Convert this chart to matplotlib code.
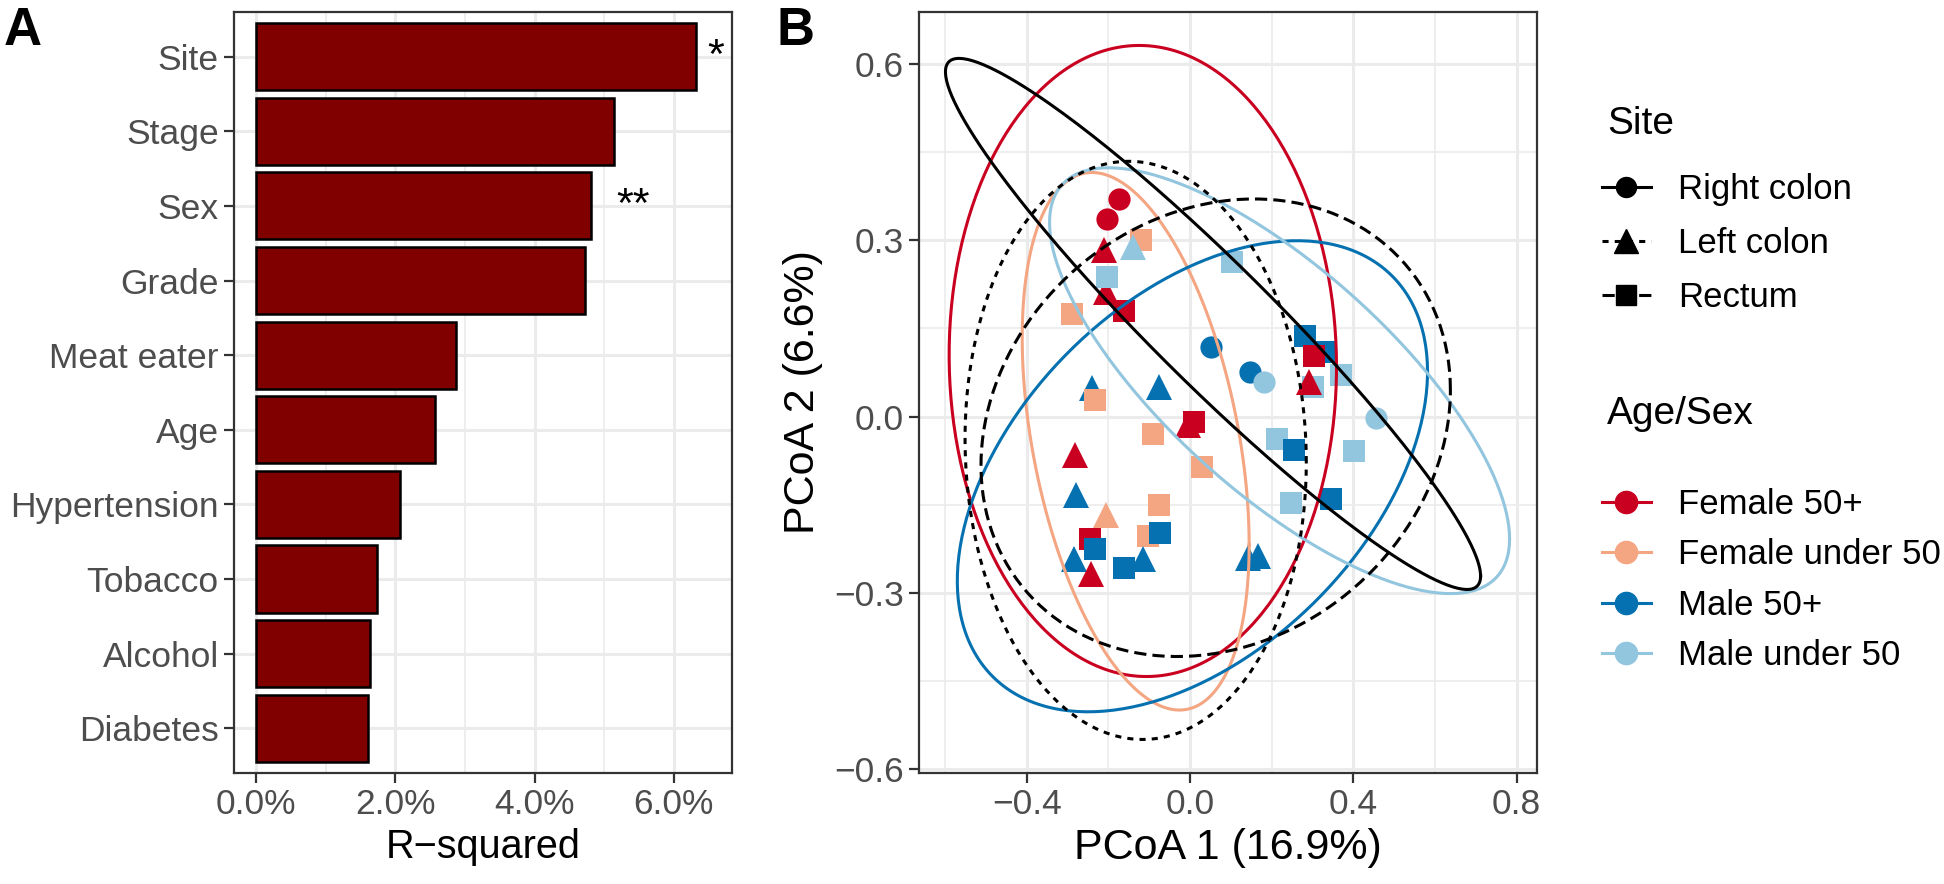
import numpy as np
import matplotlib.pyplot as plt
from matplotlib.lines import Line2D

plt.rcParams['font.family'] = ['Liberation Sans', 'DejaVu Sans']

# ---- panel A: PERMANOVA R-squared per variable
variables = ['Site', 'Stage', 'Sex', 'Grade', 'Meat eater', 'Age',
             'Hypertension', 'Tobacco', 'Alcohol', 'Diabetes']
r_squared = [6.32, 5.14, 4.81, 4.72, 2.87, 2.57, 2.06, 1.74, 1.64, 1.61]
star_vars = ['Site', 'Sex']
star_text = ['*', '**']
star_x = [6.61, 5.42]

# ---- panel B: PCoA scores (drawing order kept as listed)
pc1 = [-0.240, -0.206, -0.246, 0.052, 0.147,
       -0.121, -0.288, -0.232, -0.090, 0.029, -0.077, -0.104, -0.206,
       0.181, 0.456, -0.140, -0.203, 0.103, 0.214, 0.248, 0.401, 0.369, 0.301,
       -0.075, -0.278, -0.285, -0.114, 0.142, 0.166,
       -0.232, -0.073, -0.162, 0.255, 0.345, 0.282, 0.330,
       -0.175, -0.204, -0.211, -0.005, -0.281, -0.242, 0.292,
       -0.162, 0.010, 0.303]
pc2 = [0.048, 0.212, -0.209, 0.118, 0.075,
       0.300, 0.174, 0.028, -0.029, -0.085, -0.151, -0.203, -0.168,
       0.058, -0.003, 0.289, 0.238, 0.263, -0.038, -0.147, -0.059, 0.071, 0.051,
       0.051, -0.134, -0.243, -0.243, -0.241, -0.237,
       -0.226, -0.198, -0.258, -0.057, -0.140, 0.137, 0.109,
       0.370, 0.336, 0.283, -0.015, -0.066, -0.267, 0.058,
       0.180, -0.009, 0.103]
site = ['Left colon', 'Left colon', 'Rectum', 'Right colon', 'Right colon',
        'Rectum', 'Rectum', 'Rectum', 'Rectum', 'Rectum', 'Rectum', 'Rectum', 'Left colon',
        'Right colon', 'Right colon', 'Left colon', 'Rectum', 'Rectum', 'Rectum', 'Rectum', 'Rectum', 'Rectum', 'Rectum',
        'Left colon', 'Left colon', 'Left colon', 'Left colon', 'Left colon', 'Left colon',
        'Rectum', 'Rectum', 'Rectum', 'Rectum', 'Rectum', 'Rectum', 'Rectum',
        'Right colon', 'Right colon', 'Left colon', 'Left colon', 'Left colon', 'Left colon', 'Left colon',
        'Rectum', 'Rectum', 'Rectum']
group = ['Male 50+', 'Female 50+', 'Female 50+', 'Male 50+', 'Male 50+',
         'Female under 50', 'Female under 50', 'Female under 50', 'Female under 50',
         'Female under 50', 'Female under 50', 'Female under 50', 'Female under 50',
         'Male under 50', 'Male under 50', 'Male under 50', 'Male under 50', 'Male under 50',
         'Male under 50', 'Male under 50', 'Male under 50', 'Male under 50', 'Male under 50',
         'Male 50+', 'Male 50+', 'Male 50+', 'Male 50+', 'Male 50+', 'Male 50+',
         'Male 50+', 'Male 50+', 'Male 50+', 'Male 50+', 'Male 50+', 'Male 50+', 'Male 50+',
         'Female 50+', 'Female 50+', 'Female 50+', 'Female 50+', 'Female 50+', 'Female 50+', 'Female 50+',
         'Female 50+', 'Female 50+', 'Female 50+']

# 95% ellipses: centre, half x-extent, half y-extent, y-offset at the rightmost point
groups = ['Female 50+', 'Female under 50', 'Male 50+', 'Male under 50']
grp_cx = [-0.1155, -0.133, 0.006, 0.2195]
grp_cy = [0.0945, -0.042, -0.1015, 0.061]
grp_w = [0.4745, 0.278, 0.576, 0.5635]
grp_h = [0.5365, 0.457, 0.4005, 0.362]
grp_k = [-0.01, -0.176, 0.178, -0.269]

sites = ['Right colon', 'Left colon', 'Rectum']
site_cx = [0.0565, -0.133, 0.063]
site_cy = [0.1575, -0.0575, -0.019]
site_w = [0.6555, 0.418, 0.575]
site_h = [0.4515, 0.4915, 0.389]
site_k = [-0.4285, -0.02, 0.064]

grp_colors = {'Female 50+': '#CA0020', 'Female under 50': '#F4A582',
              'Male 50+': '#0571B0', 'Male under 50': '#92C5DE'}
site_markers = {'Right colon': 'o', 'Left colon': '^', 'Rectum': 's'}
site_msize = {'Right colon': 16, 'Left colon': 19, 'Rectum': 15.5}
site_ls = {'Right colon': '-', 'Left colon': (0, (2, 2)), 'Rectum': (0, (4, 2))}

grid_c = '#EBEBEB'
frame_c = '#333333'
tick_c = '#4D4D4D'
tfs = 25.5

fig = plt.figure(figsize=(19.44, 8.84), dpi=100)
axA = fig.add_axes([0.1204, 0.1256, 0.2562, 0.8609])
axB = fig.add_axes([0.4727, 0.1256, 0.3179, 0.8609])


def style_axes(ax):
    for s in ax.spines.values():
        s.set_color(frame_c)
        s.set_linewidth(1.6)
    ax.set_axisbelow(True)
    ax.tick_params(which='major', length=7, width=1.6, color=frame_c,
                   labelsize=tfs, labelcolor=tick_c, pad=4)
    ax.tick_params(which='minor', length=0)
    ax.grid(which='major', color=grid_c, lw=2.2)
    ax.grid(which='minor', color=grid_c, lw=1.2)


# ---- A
ypos = np.arange(len(variables))[::-1] + 1
axA.barh(ypos, r_squared, height=0.9, color='#800000', edgecolor='black', lw=1.8, zorder=3)
for v, t, x in zip(star_vars, star_text, star_x):
    axA.text(x, ypos[variables.index(v)], t, fontsize=31, ha='center', va='center')
axA.set_yticks(ypos)
axA.set_yticklabels(variables)
axA.set_xticks([0, 2, 4, 6])
axA.set_xticklabels(['0.0%', '2.0%', '4.0%', '6.0%'])
axA.set_xticks([1, 3, 5], minor=True)
axA.set_xlim(-0.32, 6.84)
axA.set_ylim(0.4, 10.6)
axA.set_xlabel('R\u2212squared', fontsize=28.5, labelpad=5)
style_axes(axA)

# ---- B
for x, y, s, g in zip(pc1, pc2, site, group):
    axB.plot(x, y, linestyle='none', marker=site_markers[s], markersize=site_msize[s],
             color=grp_colors[g], markeredgewidth=0, zorder=3)

t = np.linspace(0, 2 * np.pi, 300)
for g, cx, cy, w, h, k in zip(groups, grp_cx, grp_cy, grp_w, grp_h, grp_k):
    axB.plot(cx + w * np.cos(t), cy + k * np.cos(t) + np.sqrt(h ** 2 - k ** 2) * np.sin(t),
             color=grp_colors[g], lw=2.2, zorder=4)
for s, cx, cy, w, h, k in zip(sites, site_cx, site_cy, site_w, site_h, site_k):
    axB.plot(cx + w * np.cos(t), cy + k * np.cos(t) + np.sqrt(h ** 2 - k ** 2) * np.sin(t),
             color='black', lw=2.2, linestyle=site_ls[s], zorder=4)

axB.set_xlim(-0.664, 0.850)
axB.set_ylim(-0.606, 0.688)
axB.set_xticks([-0.4, 0.0, 0.4, 0.8])
axB.set_xticklabels(['\u22120.4', '0.0', '0.4', '0.8'])
axB.set_xticks([-0.6, -0.2, 0.2, 0.6], minor=True)
axB.set_yticks([-0.6, -0.3, 0.0, 0.3, 0.6])
axB.set_yticklabels(['\u22120.6', '\u22120.3', '0.0', '0.3', '0.6'])
axB.set_yticks([-0.45, -0.15, 0.15, 0.45], minor=True)
axB.set_xlabel('PCoA 1 (16.9%)', fontsize=31, labelpad=5)
axB.set_ylabel('PCoA 2 (6.6%)', fontsize=31, labelpad=8)
style_axes(axB)

# ---- legends (titles placed separately)
site_handles = [Line2D([0], [0], color='black', lw=2.2, linestyle=site_ls[s],
                       marker=site_markers[s], markersize=site_msize[s] * 0.9) for s in sites]
grp_handles = [Line2D([0], [0], color=grp_colors[g], lw=2.2,
                      marker='o', markersize=16) for g in groups]
leg_kw = dict(frameon=False, fontsize=25, handlelength=1.4, handletextpad=0.8,
              borderpad=0, borderaxespad=0, loc='upper left')
fig.legend(site_handles, sites, bbox_to_anchor=(1602 / 1944, 1 - 173 / 884),
           labelspacing=0.6, **leg_kw)
fig.legend(grp_handles, groups, bbox_to_anchor=(1602 / 1944, 1 - 488 / 884),
           labelspacing=0.5, **leg_kw)
fig.text(1607 / 1944, 1 - 124 / 884, 'Site', fontsize=28, va='center')
fig.text(1607 / 1944, 1 - 414 / 884, 'Age/Sex', fontsize=28, va='center')

fig.text(4 / 1944, 1 - 6 / 884, 'A', fontsize=38, fontweight='bold', va='top')
fig.text(776 / 1944, 1 - 6 / 884, 'B', fontsize=38, fontweight='bold', va='top')

fig.savefig('out.png', dpi=100)
